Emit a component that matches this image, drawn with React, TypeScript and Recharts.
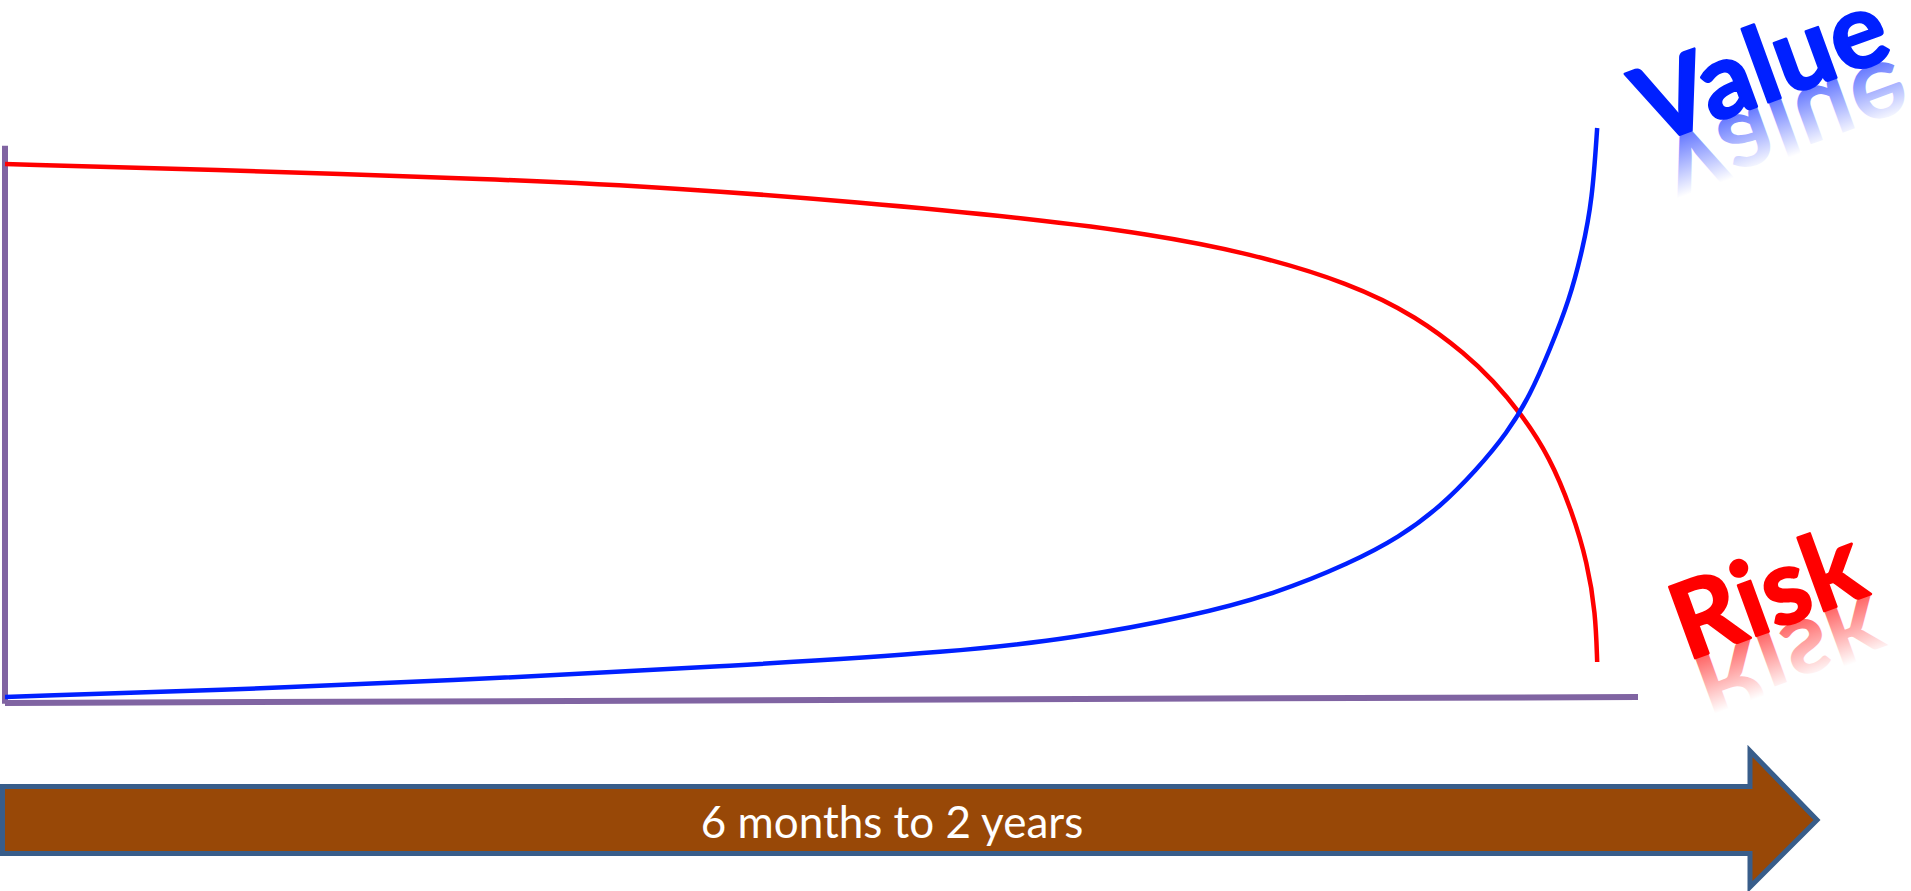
import React from 'react'
import { LineChart, Line, XAxis, YAxis, ReferenceLine, ReferenceDot } from 'recharts'

// time runs 0..100 across the plot, level 0..100 up the plot
const riskTime = [0, 11.9, 30.3, 41.3, 52.2, 63.1, 70.1, 76.2, 82.4, 86.5, 89.5, 91.1, 92.8, 94.6, 96.0, 96.9, 97.4, 97.5]
const riskLevel = [93.7, 92.8, 91.1, 89.5, 87.1, 84.1, 81.5, 78.2, 72.9, 67.0, 60.4, 56.0, 50.3, 42.6, 32.8, 24.1, 15.4, 6.8]

const valueTime = [0, 18.1, 30.3, 44.4, 58.4, 65.5, 72.5, 77.8, 82.4, 85.4, 87.9, 90.1, 92.0, 93.4, 94.6, 95.8, 96.6, 97.2, 97.5]
const valueLevel = [0.7, 2.4, 4.0, 6.1, 8.6, 11.0, 14.7, 18.7, 24.1, 28.6, 33.9, 40.3, 46.8, 53.4, 61.3, 70.0, 78.7, 87.4, 100]

const seriesNames = ['Value', 'Risk']
const timeLabel = '6 months to 2 years'

const riskData = riskTime.map((x, i) => ({ x, y: riskLevel[i] }))
const valueData = valueTime.map((x, i) => ({ x, y: valueLevel[i] }))
const riskEnd = riskData[riskData.length - 1]
const valueEnd = valueData[valueData.length - 1]

const PURPLE = '#8064A2'
const RED = '#ff0000'
const BLUE = '#0020ff'

// big tilted word with a fading mirror image under its baseline
// eslint-disable-next-line @typescript-eslint/no-explicit-any
const ReflectedWord = ({ cx, cy, text, color, dx, dy, id }: any) => {
  if (cx == null || cy == null) return null
  const style = { fontFamily: 'Lato', fontWeight: 700, fontSize: 105 }
  return (
    <g transform={`translate(${cx + dx},${cy + dy}) rotate(-20)`}>
      <defs>
        <linearGradient id={id} gradientUnits="userSpaceOnUse" x1={0} y1={0} x2={0} y2={-74}>
          <stop offset="0" stopColor={color} stopOpacity={0.6} />
          <stop offset="0.8" stopColor={color} stopOpacity={0} />
        </linearGradient>
      </defs>
      <g transform="scale(1,-1)">
        <text x={0} y={0} fill={`url(#${id})`} style={style}>{text}</text>
      </g>
      <text x={0} y={0} fill={color} stroke={color} strokeWidth={2.5} strokeLinejoin="round" style={style}>{text}</text>
    </g>
  )
}

export default function App() {
  return (
    <div style={{ position: 'absolute', left: 0, top: 0, width: 1911, height: 891, background: '#fff' }}>
      <svg width={1911} height={891} style={{ position: 'absolute', left: 0, top: 0 }}>
        <polygon
          points="2.5,786.5 1750,786.5 1750,751 1817,820 1750,887 1750,853.5 2.5,853.5"
          fill="#984807" stroke="#385D8A" strokeWidth={5}
        />
        <text x={892} y={838} textAnchor="middle" fill="#fff" style={{ fontFamily: 'Lato', fontSize: 44 }}>
          {timeLabel}
        </text>
      </svg>
      <div style={{ position: 'absolute', left: 0, top: 0 }}>
        <LineChart width={1911} height={891} margin={{ top: 128, right: 273, bottom: 190, left: 5 }}>
          <XAxis type="number" dataKey="x" domain={[0, 100]} hide allowDataOverflow />
          <YAxis type="number" dataKey="y" domain={[0, 100]} hide />
          <ReferenceLine segment={[{ x: 0, y: -0.5 }, { x: 0, y: 96.9 }]} stroke={PURPLE} strokeWidth={6} ifOverflow="visible" />
          <ReferenceLine segment={[{ x: 0, y: -0.35 }, { x: 100, y: 0.7 }]} stroke={PURPLE} strokeWidth={6} ifOverflow="visible" />
          <Line data={riskData} dataKey="y" type="basis" stroke={RED} strokeWidth={4.5} dot={false} isAnimationActive={false} />
          <Line data={valueData} dataKey="y" type="basis" stroke={BLUE} strokeWidth={4.5} dot={false} isAnimationActive={false} />
          <ReferenceDot
            x={valueEnd.x} y={valueEnd.y} r={0} ifOverflow="visible"
            shape={(p: any) => <ReflectedWord {...p} text={seriesNames[0]} color={BLUE} dx={54} dy={17} id="fadeValue" />}
          />
          <ReferenceDot
            x={riskEnd.x} y={riskEnd.y} r={0} ifOverflow="visible"
            shape={(p: any) => <ReflectedWord {...p} text={seriesNames[1]} color={RED} dx={90} dy={-1} id="fadeRisk" />}
          />
        </LineChart>
      </div>
    </div>
  )
}
